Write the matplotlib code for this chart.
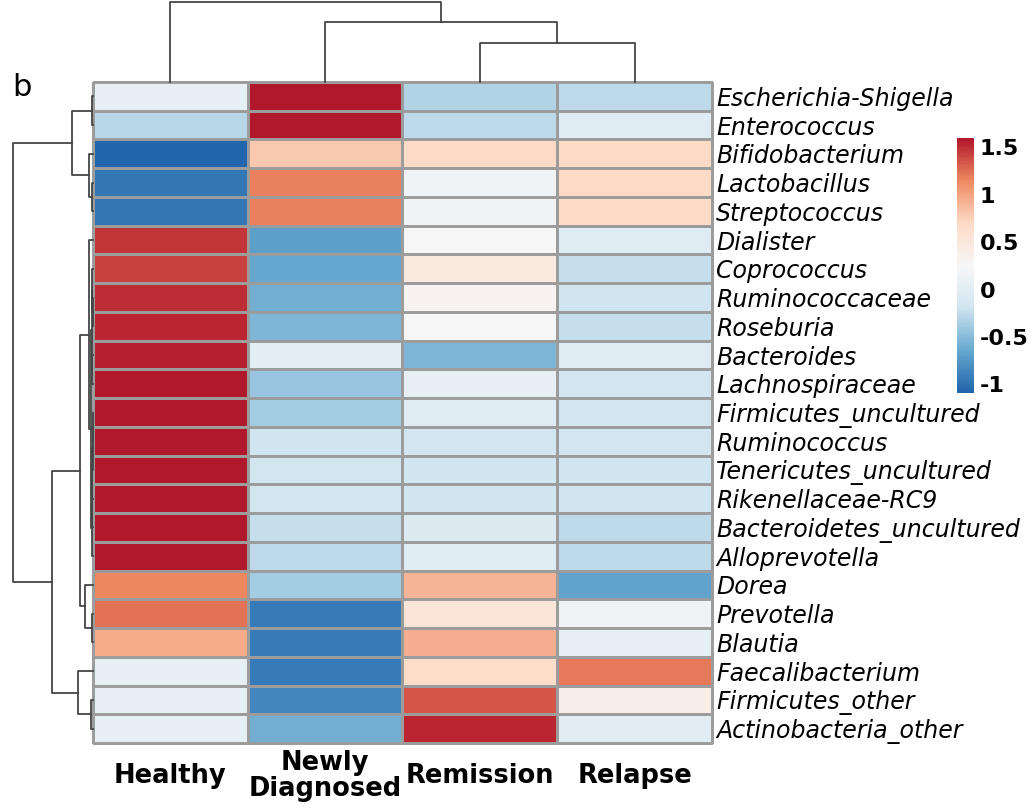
import numpy as np
import matplotlib.pyplot as plt
from matplotlib.colors import LinearSegmentedColormap

taxa = ['Escherichia-Shigella', 'Enterococcus', 'Bifidobacterium', 'Lactobacillus',
        'Streptococcus', 'Dialister', 'Coprococcus', 'Ruminococcaceae', 'Roseburia',
        'Bacteroides', 'Lachnospiraceae', 'Firmicutes_uncultured', 'Ruminococcus',
        'Tenericutes_uncultured', 'Rikenellaceae-RC9', 'Bacteroidetes_uncultured',
        'Alloprevotella', 'Dorea', 'Prevotella', 'Blautia', 'Faecalibacterium',
        'Firmicutes_other', 'Actinobacteria_other']
groups = ['Healthy', 'Newly\nDiagnosed', 'Remission', 'Relapse']

# z-scores per taxon
healthy = [0.04, -0.30, -1.09, -0.97, -0.97, 1.49, 1.42, 1.51, 1.53, 1.56, 1.59, 1.60,
           1.60, 1.60, 1.60, 1.60, 1.60, 1.15, 1.24, 0.98, 0.05, 0.06, 0.06]
newly = [1.59, 1.60, 0.81, 1.17, 1.19, -0.71, -0.645, -0.60, -0.54, 0.02, -0.42, -0.38,
         -0.20, -0.17, -0.15, -0.25, -0.27, -0.37, -0.95, -0.95, -0.95, -0.85, -0.60]
remission = [-0.33, -0.28, 0.70, 0.15, 0.15, 0.27, 0.48, 0.335, 0.255, -0.55, 0.04, -0.02,
             -0.17, -0.19, -0.19, -0.05, -0.02, 0.92, 0.54, 0.95, 0.67, 1.35, 1.53]
relapse = [-0.28, -0.04, 0.70, 0.705, 0.70, -0.02, -0.25, -0.19, -0.23, -0.04, -0.17, -0.17,
           -0.17, -0.19, -0.19, -0.26, -0.27, -0.67, 0.15, 0.05, 1.20, 0.40, 0.0]

# clustering trees: (left, right, height), leaves are display positions
col_tree = (0, (1, (2, 3, 38.7), 60.3), 80.0)
row_A = ((0, 1, 1.3), (2, (3, 4, 0.8), 3.7), 21.3)
row_X = ((6, (7, 8, 0.5), 0.9), (9, 10, 0.6), 1.2)
row_Y = (((((11, 12, 0.2), 13, 0.4), 14, 0.6), 15, 0.8), 16, 1.0)
row_E = (5, (row_X, row_Y, 2.5), 3.7)
row_C = (row_E, (17, (18, 19, 1.5), 8.0), 13.0)
row_D = (20, (21, 22, 2.0), 15.0)
row_tree = (row_A, (row_C, row_D, 41.3), 80.3)

rdbu7 = ['#2166AC', '#67A9CF', '#D1E5F0', '#F7F7F7', '#FDDBC7', '#EF8A62', '#B2182B']
cmap = LinearSegmentedColormap.from_list('rdbu7', rdbu7, N=100)
vmin, vmax = -1.09, 1.60

data = np.column_stack([healthy, newly, remission, relapse])
nrow, ncol = data.shape

W, H = 1032, 808
fig = plt.figure(figsize=(W / 100, H / 100), dpi=100)


def fx(px):
    return px / W


def fy(py):
    return 1 - py / H


def draw_tree(ax, node, vertical):
    if isinstance(node, int):
        return node + 0.5, 0.0
    a, b, h = node
    pa, ha = draw_tree(ax, a, vertical)
    pb, hb = draw_tree(ax, b, vertical)
    if vertical:
        ax.plot([pa, pa, pb, pb], [ha, h, h, hb], color='#454545', lw=1.3, clip_on=False)
    else:
        ax.plot([ha, h, h, hb], [pa, pa, pb, pb], color='#454545', lw=1.3, clip_on=False)
    return (pa + pb) / 2, h


# heatmap
left, right, top, bottom = 93, 712, 82, 743
ax = fig.add_axes([fx(left), fy(bottom), fx(right - left), fy(top) - fy(bottom)])
mesh = ax.pcolormesh(np.arange(ncol + 1), np.arange(nrow + 1), data, cmap=cmap,
                     vmin=vmin, vmax=vmax, edgecolors='#9c9c9c', linewidth=0.75)
mesh.set_clip_on(False)
ax.set_xlim(0, ncol)
ax.set_ylim(nrow, 0)
for s in ax.spines.values():
    s.set_visible(False)
ax.yaxis.tick_right()
ax.set_yticks(np.arange(nrow) + 0.5)
ax.set_yticklabels(taxa, fontsize=17, style='italic')
ax.set_xticks(np.arange(ncol) + 0.5)
ax.set_xticklabels(groups, fontsize=18.5, fontweight='bold', va='center', linespacing=1.0)
ax.tick_params(axis='y', length=0, pad=3)
ax.tick_params(axis='x', length=0, pad=24)

# row dendrogram
rax = fig.add_axes([fx(12.7), fy(bottom), fx(93 - 12.7), fy(top) - fy(bottom)])
draw_tree(rax, row_tree, vertical=False)
rax.set_xlim(row_tree[2], 0)
rax.set_ylim(nrow, 0)
rax.axis('off')

# column dendrogram
cax_d = fig.add_axes([fx(left), fy(top), fx(right - left), fy(2) - fy(top)])
draw_tree(cax_d, col_tree, vertical=True)
cax_d.set_xlim(0, ncol)
cax_d.set_ylim(0, col_tree[2])
cax_d.axis('off')

# colour legend
cbax = fig.add_axes([fx(957), fy(393), fx(17), fy(138) - fy(393)])
cb = fig.colorbar(mesh, cax=cbax)
cb.outline.set_visible(False)
cb.set_ticks([-1, -0.5, 0, 0.5, 1, 1.5])
cb.set_ticklabels(['-1', '-0.5', '0', '0.5', '1', '1.5'])
cbax.tick_params(length=0, pad=4, labelsize=16)
for t in cbax.get_yticklabels():
    t.set_fontweight('bold')

fig.text(fx(12), fy(88), 'b', fontsize=22, va='center', ha='left')

fig.savefig('out.png', dpi=100)
